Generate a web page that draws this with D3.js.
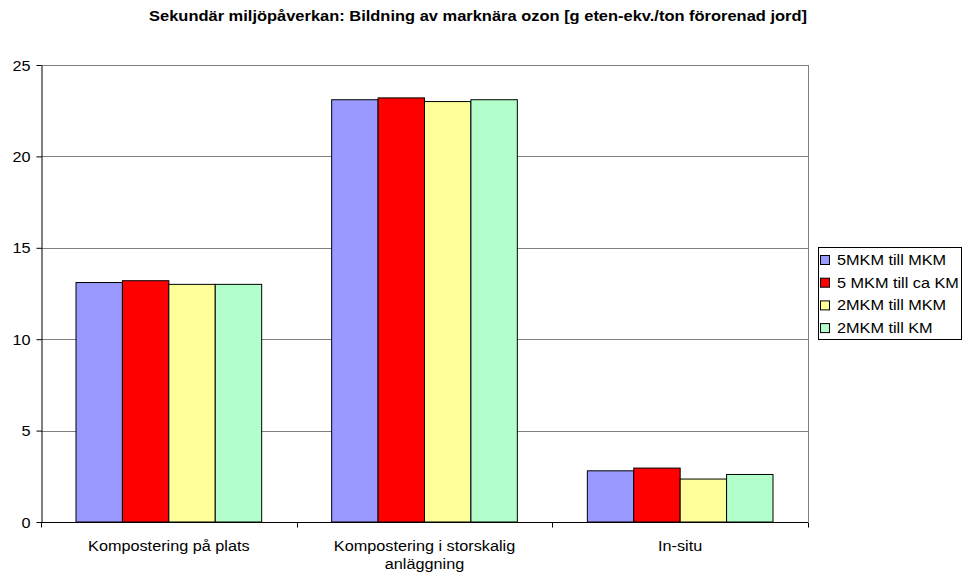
<!doctype html>
<html>
<head>
<meta charset="UTF-8">
<title>Bildning av marknära ozon</title>
<style>
  body { margin: 0; background: #fff; }
  svg text { font-family: Arial, "Liberation Sans", sans-serif; fill: #000; }
</style>
</head>
<body>
<div id="chart"></div>
<script src="https://cdn.jsdelivr.net/npm/d3@7"></script>
<script>
// data
var categories = ["Kompostering på plats", "Kompostering i storskalig anläggning", "In-situ"];
var seriesNames = ["5MKM till MKM", "5 MKM till ca KM", "2MKM till MKM", "2MKM till KM"];
var seriesColors = ["#9999ff", "#ff0000", "#ffff99", "#b3ffcc"];
var s1 = [13.1, 23.1, 2.8];
var s2 = [13.2, 23.2, 2.95];
var s3 = [13.0, 23.0, 2.35];
var s4 = [13.0, 23.1, 2.6];
var yTicks = [0, 5, 10, 15, 20, 25];

var series = [s1, s2, s3, s4];

// the reference text is slightly stretched sideways
var SX = 1.16;

var W = 962, H = 578;
var margin = {top: 65, right: 154, bottom: 56, left: 41};
var width = W - margin.left - margin.right,
    height = H - margin.top - margin.bottom;

var svg = d3.select("#chart").append("svg")
    .attr("width", W).attr("height", H);

function stext(sel, x, y, str, size, anchor) {
  return sel.append("text")
    .attr("transform", "translate(" + x + "," + y + ") scale(" + SX + ",1)")
    .attr("text-anchor", anchor || "start")
    .style("font-size", size + "px")
    .text(str);
}

stext(svg, 478, 21, "Sekundär miljöpåverkan: Bildning av marknära ozon [g eten-ekv./ton förorenad jord]", 14.2, "middle")
  .style("font-weight", "bold");

var g = svg.append("g").attr("transform", "translate(" + margin.left + "," + margin.top + ")");

var x0 = d3.scaleBand().domain(categories).range([0, width]).paddingInner(0).paddingOuter(0);
var x1 = d3.scaleBand().domain(d3.range(series.length)).range([35, x0.bandwidth() - 35]);
var y = d3.scaleLinear().domain([0, 25]).range([height, 0]);

// gridlines
g.selectAll(".grid").data(yTicks.slice(1))
  .join("line")
    .attr("x1", 0).attr("x2", width)
    .attr("y1", d => Math.round(y(d)) + 0.5).attr("y2", d => Math.round(y(d)) + 0.5)
    .attr("stroke", "#808080").attr("stroke-width", 1);

// right border
g.append("line")
    .attr("x1", width + 0.5).attr("x2", width + 0.5)
    .attr("y1", 0).attr("y2", height)
    .attr("stroke", "#808080");

// bars
categories.forEach(function(c, i) {
  series.forEach(function(s, j) {
    g.append("rect")
      .attr("x", x0(c) + x1(j))
      .attr("y", y(s[i]))
      .attr("width", x1.bandwidth())
      .attr("height", height - y(s[i]))
      .attr("fill", seriesColors[j])
      .attr("stroke", "#000").attr("stroke-width", 1);
  });
});

// y axis
var yAxis = g.append("g")
    .attr("transform", "translate(0.5,0)")
    .call(d3.axisLeft(y).tickValues(yTicks).tickSize(5).tickSizeOuter(0));
yAxis.select(".domain").attr("stroke", "#000");
yAxis.selectAll(".tick text").remove();
yAxis.selectAll(".tick").each(function(d) {
  stext(d3.select(this), -11, 5, d, 14, "end");
});

// x axis
var xAxis = g.append("g")
    .attr("transform", "translate(0," + (height + 0.5) + ")");
xAxis.append("line").attr("x1", 0).attr("x2", width).attr("stroke", "#000");
xAxis.selectAll(".xt").data(d3.range(categories.length + 1))
  .join("line")
    .attr("x1", d => Math.round(d * x0.step()) + 0.5)
    .attr("x2", d => Math.round(d * x0.step()) + 0.5)
    .attr("y1", 0).attr("y2", 5).attr("stroke", "#000");
categories.forEach(function(d) {
  var lines = d === "Kompostering i storskalig anläggning"
    ? ["Kompostering i storskalig", "anläggning"] : [d];
  lines.forEach(function(l, k) {
    stext(xAxis, x0(d) + x0.bandwidth() / 2, 28 + k * 18, l, 14, "middle");
  });
});

// legend
var lg = svg.append("g").attr("transform", "translate(818,247)");
lg.append("rect").attr("x", 0.5).attr("y", 0.5).attr("width", 143).attr("height", 92)
  .attr("fill", "#fff").attr("stroke", "#000");
seriesNames.forEach(function(n, j) {
  var row = lg.append("g").attr("transform", "translate(0," + (13 + j * 22.7) + ")");
  row.append("rect").attr("x", 2.5).attr("y", -4.5).attr("width", 9).attr("height", 9)
    .attr("fill", seriesColors[j]).attr("stroke", "#000");
  stext(row, 19, 5, n, 14, "start");
});
</script>
</body>
</html>
